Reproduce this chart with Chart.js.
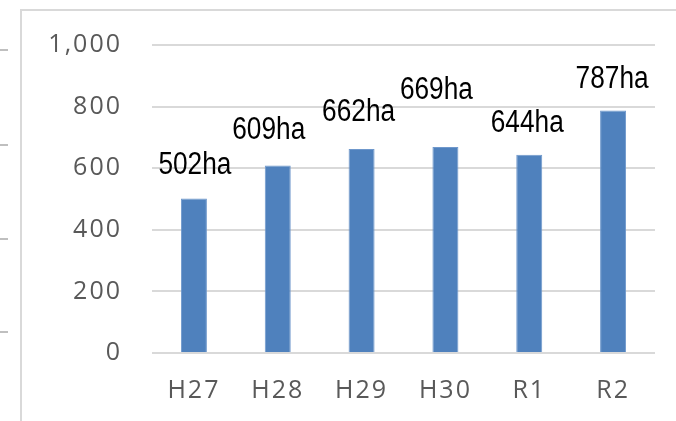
<!DOCTYPE html>
<html>
<head>
<meta charset="utf-8">
<script src="https://cdn.jsdelivr.net/npm/chart.js@4/dist/chart.umd.min.js"></script>
<style>
  html, body { margin: 0; padding: 0; background: #fff; }
  #wrap { position: relative; width: 676px; height: 421px; overflow: hidden; }
  #frame { position: absolute; left: 20px; top: 9px; width: 700px; height: 500px;
           border-left: 2px solid #d9d9d9; border-top: 2px solid #d9d9d9; }
  .dash { position: absolute; left: 0; width: 8px; height: 2px; background: #bfbfbf; }
  canvas { position: absolute; left: 0; top: 0; }
</style>
</head>
<body>
<div id="wrap">
  <div id="frame"></div>
  <div class="dash" style="top:49px"></div>
  <div class="dash" style="top:144px"></div>
  <div class="dash" style="top:238px"></div>
  <div class="dash" style="top:331px"></div>
  <canvas id="areaChart" width="676" height="421"></canvas>
</div>
<script>
// 年度
const years = ['H27', 'H28', 'H29', 'H30', 'R1', 'R2'];
// 面積 (ha)
const areaHa = [502, 609, 662, 669, 644, 787];
// 軸の目盛り
const yTicks = [0, 200, 400, 600, 800, 1000];

// ラベルの位置ずれ [横, 棒の上からの間隔]（元の図に合わせる）
const labelShift = [[1, 24], [-9, 26], [-3, 28], [-9, 48], [-2, 23], [-1, 23]];

const spacing = {
    id: 'spacing',
    beforeDraw(chart) { chart.ctx.letterSpacing = '2px'; }
};

const barLabels = {
    id: 'barLabels',
    afterDatasetsDraw(chart) {
        const ctx = chart.ctx;
        const meta = chart.getDatasetMeta(0);
        ctx.save();
        ctx.letterSpacing = '0px';
        ctx.fillStyle = '#000';
        ctx.font = '29px "Liberation Sans Narrow", "Liberation Sans", sans-serif';
        ctx.textAlign = 'center';
        ctx.textBaseline = 'alphabetic';
        meta.data.forEach((bar, i) => {
            const s = labelShift[i];
            const txt = areaHa[i] + 'ha';
            const w = ctx.measureText(txt).width;
            ctx.save();
            ctx.translate(bar.x + s[0], bar.y - s[1]);
            ctx.scale(73 / w, 1.1);
            ctx.fillText(txt, 0, 0);
            ctx.restore();
        });
        ctx.restore();
    }
};

const ctxArea = document.getElementById('areaChart').getContext('2d');

new Chart(ctxArea, {
    type: 'bar',
    data: {
        labels: years,
        datasets: [{
            data: areaHa,
            backgroundColor: '#4f81bd',
            borderColor: '#6f98cc',
            borderWidth: 1,
            barPercentage: 0.31,
            categoryPercentage: 1
        }]
    },
    options: {
        responsive: false,
        animation: false,
        layout: { padding: { left: 0, right: 21, top: 44, bottom: 0 } },
        plugins: { legend: { display: false }, tooltip: { enabled: false } },
        scales: {
            x: {
                grid: { display: false },
                border: { display: false },
                ticks: { color: '#595959', padding: 15, font: { family: '"Open Sans"', size: 25 } },
                afterFit(scale) { scale.height = 68; }
            },
            y: {
                min: 0,
                max: 1000,
                afterBuildTicks(scale) { scale.ticks = yTicks.map(v => ({ value: v })); },
                grid: { color: '#d9d9d9', lineWidth: 2, drawTicks: false },
                border: { display: false },
                ticks: { color: '#595959', padding: 30, font: { family: '"Open Sans"', size: 25 } },
                afterFit(scale) { scale.width = 152; }
            }
        }
    },
    plugins: [spacing, barLabels]
});
</script>
</body>
</html>
